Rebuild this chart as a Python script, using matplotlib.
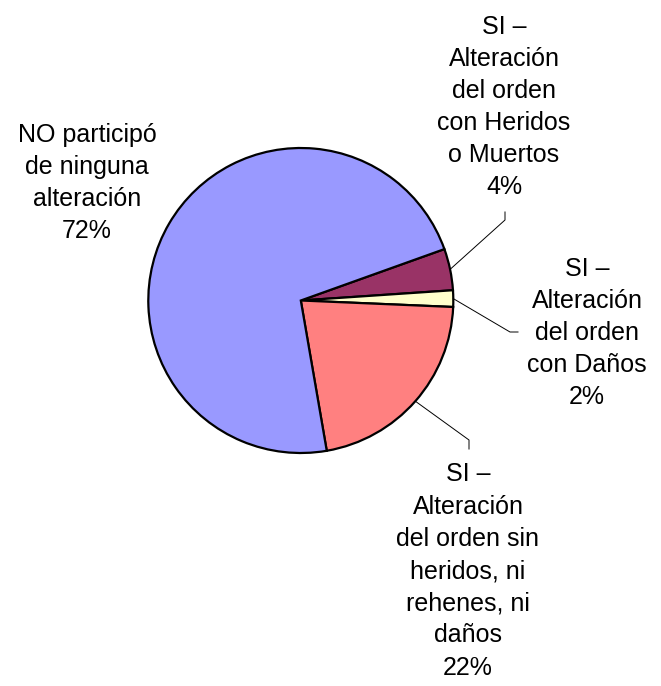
import numpy as np
import matplotlib
matplotlib.use("Agg")
import matplotlib.pyplot as plt

# slice values (percent), in drawing order
labels = ["SI \u2013\nAlteraci\u00f3n\ndel orden\ncon Heridos\no Muertos",
          "SI \u2013\nAlteraci\u00f3n\ndel orden\ncon Da\u00f1os",
          "SI \u2013\nAlteraci\u00f3n\ndel orden sin\nheridos, ni\nrehenes, ni\nda\u00f1os",
          "NO particip\u00f3\nde ninguna\nalteraci\u00f3n"]
values = [4.4, 1.75, 21.6, 72.25]
pct_text = ["4%", "2%", "22%", "72%"]
colors = ["#993366", "#FFFFCC", "#FF8080", "#9999FF"]

W, H = 661, 686
plt.rcParams['font.family'] = ['Liberation Sans', 'DejaVu Sans']

fig = plt.figure(figsize=(W / 100, H / 100), dpi=100)
ax = fig.add_axes([0, 0, 1, 1])

cx, cy, r = 300.8, H - 300.5, 152.5
wedges, _ = ax.pie(values, colors=colors, startangle=19.7, counterclock=False,
                   center=(cx, cy), radius=r, frame=True,
                   wedgeprops=dict(edgecolor='black', linewidth=1.6))
ax.set_xlim(0, W)
ax.set_ylim(0, H)
ax.set_aspect('equal')
ax.axis('off')

# label centres and leader elbows (pixel layout, y from top)
label_pos = [(504, 107), (587, 333), (468, 571), (87, 183)]
elbows = [[(505, 220), (505, 212)],
          [(510, 332), (518, 332)],
          [(469, 440), (469, 449)],
          None]

for w, lab, pt, pos, elb in zip(wedges, labels, pct_text, label_pos, elbows):
    ax.text(pos[0], H - pos[1], lab + "\n" + pt, ha='center', va='center',
            fontsize=18, linespacing=1.43, color='black')
    if elb is None:
        continue
    mid = np.deg2rad((w.theta1 + w.theta2) / 2)
    xs = [cx + r * np.cos(mid)] + [p[0] for p in elb]
    ys = [cy + r * np.sin(mid)] + [H - p[1] for p in elb]
    ax.plot(xs, ys, color='black', linewidth=0.7)

fig.savefig("out.png", dpi=100)
